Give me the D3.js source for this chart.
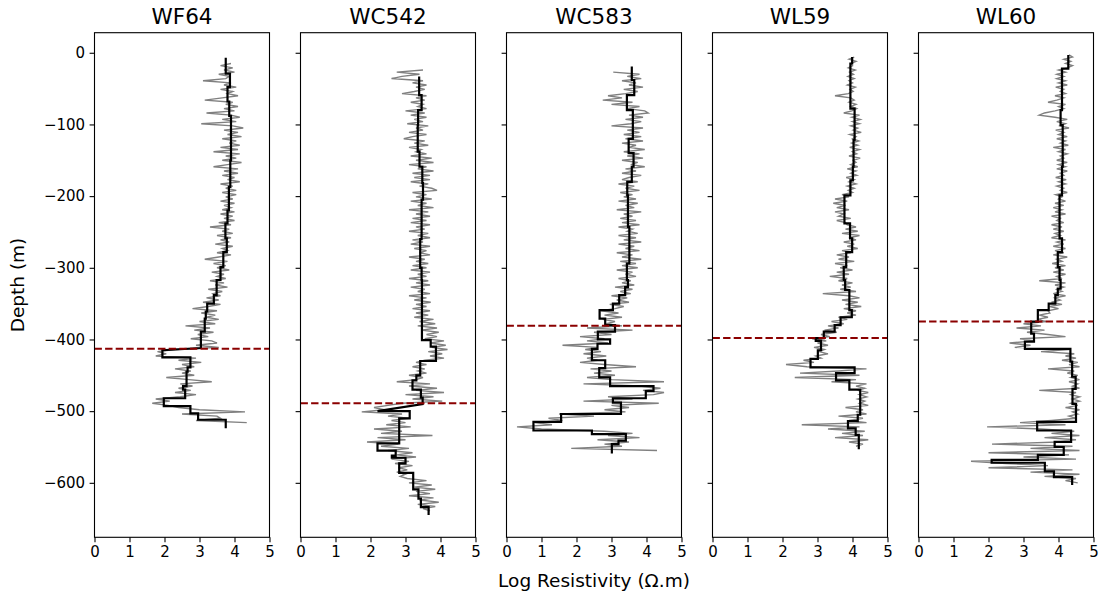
<!DOCTYPE html>
<html>
<head>
<meta charset="utf-8">
<script src="https://cdn.jsdelivr.net/npm/d3@7"></script>
<style>
  body { margin: 0; background: #fff; }
  svg { font-family: "DejaVu Sans", sans-serif; }
</style>
</head>
<body>
<svg id="chart" width="1104" height="596"></svg>
<script>
// wells and interpreted contact depth (m)
const wells = ["WF64", "WC542", "WC583", "WL59", "WL60"];
const contactDepth = [-413, -489, -381, -398, -375];
const depthTicks = [0, -100, -200, -300, -400, -500, -600];
const resTicks = [0, 1, 2, 3, 4, 5];

// raw resistivity logs, one sample every 3 m from the first depth
const logStep = 3;
const logTop = [-15, -24, -27, -6, -3];

const wf64Log = [
  3.9, 3.6, 3.95, 3.7, 4.0, 3.55, 3.85, 3.75, 3.1, 3.9,
  3.7, 4.05, 3.6, 3.95, 3.8, 4.1, 3.65, 3.15, 3.95, 3.75,
  4.1, 3.7, 4.0, 3.2, 3.9, 4.15, 3.65, 4.05, 3.05, 3.95,
  4.25, 3.7, 4.1, 3.8, 4.2, 3.65, 4.05, 3.85, 4.15, 3.6,
  4.1, 3.4, 4.15, 3.75, 4.05, 3.65, 4.2, 3.8, 3.4, 4.1,
  3.7, 4.1, 3.65, 4.0, 3.8, 4.15, 3.6, 3.95, 3.75, 4.05,
  3.65, 4.05, 3.75, 3.95, 3.6, 4.0, 3.7, 3.9, 3.65, 4.0,
  3.6, 3.95, 3.7, 4.0, 3.55, 3.9, 3.3, 3.85, 3.65, 3.95,
  3.5, 3.9, 3.6, 3.85, 3.45, 3.95, 3.65, 3.8, 3.5, 3.9,
  3.55, 3.15, 3.8, 3.4, 3.75, 3.5, 3.85, 3.35, 3.7, 3.5,
  3.75, 3.3, 3.7, 3.45, 3.8, 3.25, 3.65, 3.4, 3.6, 3.2,
  3.55, 3.1, 3.6, 3.25, 2.8, 3.5, 3.05, 3.45, 3.2, 3.55,
  3.0, 3.45, 2.6, 3.3, 2.85, 3.4, 2.95, 3.25, 2.75, 3.35,
  3.5, 2.9, 3.55, 2.3, 1.8, 2.05, 1.75, 2.9, 2.4, 3.05,
  2.5, 2.85, 2.3, 2.75, 2.5, 2.85, 2.05, 2.7, 3.35, 2.45,
  2.8, 2.4, 2.75, 2.3, 2.9, 2.45, 1.75, 2.15, 1.65, 2.1,
  2.4, 3.0, 4.3, 2.5, 3.5, 3.6, 2.9, 4.35
];

const wc542Log = [
  3.5, 2.75, 3.4, 2.9, 2.6, 3.5, 3.2, 3.6, 3.3, 3.55,
  3.25, 2.9, 3.6, 3.3, 3.55, 3.15, 3.5, 3.35, 3.6, 3.0,
  3.55, 3.15, 3.6, 3.25, 3.5, 3.05, 3.65, 3.3, 3.5, 3.1,
  3.6, 3.2, 2.95, 3.55, 3.25, 3.65, 3.1, 3.45, 3.3, 3.6,
  3.15, 3.75, 3.3, 3.8, 3.1, 3.6, 3.35, 3.8, 3.2, 3.7,
  3.25, 3.7, 3.15, 3.65, 3.4, 3.75, 3.9, 3.2, 3.6, 3.3,
  3.75, 3.15, 3.6, 3.35, 3.8, 3.1, 3.65, 3.3, 3.7, 3.2,
  3.6, 3.15, 3.7, 3.3, 3.55, 3.1, 3.65, 3.35, 3.7, 3.2,
  3.5, 3.15, 3.7, 3.25, 3.6, 3.4, 3.7, 3.1, 3.55, 3.3,
  3.65, 3.2, 3.6, 3.15, 3.7, 3.35, 3.6, 3.1, 3.65, 3.3,
  3.7, 3.15, 3.55, 3.35, 3.7, 3.1, 3.6, 3.25, 3.72, 3.3,
  3.6, 3.2, 3.7, 3.3, 3.65, 3.25, 3.8, 3.4, 3.85, 3.35,
  3.9, 3.45, 3.95, 3.6, 3.9, 3.55, 4.1, 3.7, 4.15, 3.75,
  4.2, 3.65, 4.05, 3.7, 4.1, 3.55, 3.3, 3.6, 3.2, 3.55,
  3.35, 3.6, 3.1, 3.5, 3.3, 2.75, 3.7, 3.1, 3.9, 3.3,
  4.1, 3.0, 3.8, 3.2, 4.05, 2.9, 2.5, 2.1, 2.4, 1.75,
  2.9, 2.5, 3.1, 2.6, 3.0, 2.45, 3.15, 2.1, 2.9, 2.3,
  3.77, 2.2, 3.0, 1.9, 2.8, 2.3, 3.1, 2.5, 3.2, 2.75,
  3.3, 2.6, 3.1, 2.7, 3.2, 2.8, 3.05, 2.75, 3.0, 2.85,
  3.05, 3.6, 3.1, 3.75, 3.25, 3.85, 3.3, 3.7, 3.1, 3.8,
  3.4, 3.95, 3.35, 3.85, 3.5, 3.7
];

const wc583Log = [
  3.05, 3.8, 3.45, 3.85, 3.3, 3.7, 3.5, 3.9, 3.35, 3.75,
  3.4, 2.9, 3.3, 2.75, 3.6, 3.0, 3.8, 3.45, 3.95, 4.05,
  3.5, 3.9, 3.4, 3.85, 3.55, 3.0, 3.9, 3.45, 3.8, 3.35,
  3.85, 3.4, 3.9, 3.3, 3.7, 3.5, 3.95, 3.35, 3.8, 3.45,
  3.9, 3.3, 3.75, 3.55, 3.95, 3.4, 3.7, 3.3, 3.85, 3.5,
  3.3, 3.75, 3.2, 3.65, 3.4, 3.8, 3.25, 3.6, 3.35, 3.7,
  3.2, 3.75, 3.4, 3.65, 3.15, 3.85, 3.35, 3.6, 3.25, 3.7,
  3.3, 3.8, 3.2, 3.6, 3.45, 3.75, 3.2, 3.7, 3.35, 3.85,
  3.2, 3.65, 3.4, 3.8, 3.15, 3.6, 3.3, 3.85, 3.25, 3.7,
  3.3, 3.75, 3.15, 3.6, 3.4, 3.7, 3.2, 3.55, 3.3, 3.65,
  3.1, 3.6, 3.25, 3.55, 3.0, 3.45, 3.15, 3.5, 2.95, 3.35,
  3.1, 2.7, 3.2, 2.8, 3.3, 2.75, 3.1, 2.85, 3.3, 2.3,
  3.6, 2.5, 3.0, 2.1, 2.8, 2.3, 2.9, 1.6, 2.6, 2.25,
  2.7, 2.2, 2.85, 2.3, 2.6, 2.1, 2.8, 3.7, 2.4, 3.0,
  2.5, 3.1, 2.3, 3.0, 4.5, 2.2, 3.8, 4.4, 3.9, 4.5,
  4.2, 2.9, 3.6, 2.2, 4.35, 3.0, 3.5, 2.8, 3.4, 1.5,
  2.5, 1.2, 1.6, 0.8, 1.3, 0.3, 1.0, 2.8, 3.6, 2.9,
  3.8, 2.6, 3.5, 2.8, 3.3, 1.85, 4.3
];

const wl59Log = [
  4.05, 3.9, 4.1, 3.95, 4.0, 3.88, 4.08, 3.92, 4.03, 3.87,
  4.05, 3.9, 4.0, 3.85, 4.08, 3.93, 4.02, 3.88, 3.5, 3.95,
  4.05, 3.9, 4.1, 3.95, 4.12, 3.98, 3.75, 4.2, 3.98, 4.22,
  4.0, 4.2, 3.95, 4.15, 4.02, 4.25, 3.92, 4.1, 4.0, 4.18,
  3.98, 4.15, 3.92, 4.2, 4.0, 4.12, 3.9, 4.22, 4.02, 4.1,
  3.95, 4.15, 3.85, 4.1, 3.95, 4.12, 3.82, 4.05, 3.9, 4.1,
  3.85, 4.05, 3.88, 4.0, 3.7, 3.9, 3.5, 3.85, 3.45, 3.8,
  3.55, 3.9, 3.5, 3.75, 3.6, 3.95, 3.55, 3.8, 3.85, 4.1,
  3.8, 4.15, 3.7, 4.2, 3.9, 4.1, 3.75, 4.05, 3.85, 4.15,
  3.7, 3.95, 3.55, 3.9, 3.6, 4.05, 3.5, 3.85, 3.65, 4.0,
  3.55, 3.9, 3.35, 3.85, 3.6, 4.0, 3.7, 3.95, 3.65, 4.1,
  3.15, 3.9, 4.2, 3.7, 4.15, 3.8, 4.25, 3.75, 4.1, 3.85,
  4.1, 3.6, 3.85, 3.4, 3.75, 3.3, 3.6, 3.2, 3.55, 3.1,
  3.35, 2.85, 3.25, 3.0, 3.3, 2.9, 3.2, 3.05, 3.3, 2.95,
  3.1, 2.6, 2.9, 2.1, 2.7, 4.4, 3.6, 2.5, 4.2, 2.35,
  4.1, 3.4, 4.4, 4.1, 4.35, 4.15, 4.45, 4.2, 4.4, 4.15,
  4.35, 4.2, 4.45, 3.8, 4.3, 4.1, 4.4, 3.6, 4.3, 3.9,
  4.4, 2.55, 4.2, 3.3, 4.35, 3.7, 4.3, 3.5, 4.45, 3.9,
  4.3, 4.1
];

const wl60Log = [
  4.3, 4.4, 4.15, 4.35, 4.2, 4.4, 4.25, 4.0, 4.2, 3.95,
  4.15, 3.95, 4.2, 4.0, 4.25, 3.92, 4.15, 4.05, 4.2, 3.9,
  4.15, 3.95, 3.7, 4.2, 4.0, 4.15, 3.9, 3.6, 3.45, 3.9,
  4.25, 3.95, 4.2, 4.05, 4.3, 3.92, 4.15, 4.0, 4.25, 3.95,
  4.2, 4.05, 4.28, 3.85, 4.2, 4.0, 4.25, 4.05, 4.15, 3.95,
  4.25, 4.0, 4.2, 3.95, 4.25, 4.05, 4.15, 3.92, 4.22, 4.0,
  4.2, 3.95, 4.15, 4.05, 4.25, 3.92, 4.1, 4.0, 4.2, 3.9,
  4.15, 3.85, 4.1, 3.9, 4.2, 3.8, 4.05, 3.95, 4.15, 3.8,
  4.1, 3.85, 4.15, 3.9, 4.05, 3.8, 4.2, 3.95, 4.15, 3.85,
  4.2, 3.9, 4.15, 3.85, 4.25, 3.95, 4.1, 3.82, 4.2, 3.9,
  4.15, 3.85, 4.2, 3.95, 4.1, 3.45, 4.2, 3.9, 4.15, 3.95,
  4.1, 3.85, 4.2, 3.9, 4.05, 3.8, 4.1, 3.75, 4.0, 3.7,
  3.75, 3.45, 3.7, 3.4, 3.65, 3.0, 3.5, 2.8, 3.6, 3.1,
  3.7, 4.2, 2.9, 3.3, 2.6, 3.2, 2.75, 4.3, 3.5, 4.45,
  4.2, 4.5, 4.1, 4.55, 4.3, 4.6, 3.7, 4.45, 4.25, 4.55,
  4.35, 4.6, 4.3, 4.55, 4.4, 4.6, 3.45, 4.5, 4.35, 4.6,
  4.4, 4.6, 4.35, 4.55, 4.2, 4.6, 4.4, 4.55, 4.3, 4.5,
  3.8, 2.9, 4.2, 1.96, 3.5, 4.45, 3.8, 4.6, 3.6, 4.5,
  4.0, 2.1, 4.4, 3.2, 4.6, 2.0, 4.3, 3.0, 4.5, 1.5,
  2.5, 3.7, 2.0, 4.4, 3.2, 4.6, 3.6, 4.5, 4.2, 4.55
];

// layered models: [top depth, base depth, log resistivity]
const wf64Model = [
  [-7, -29, 3.75], [-29, -48, 3.87], [-48, -68, 3.8], [-68, -88, 3.85],
  [-88, -150, 3.9], [-150, -187, 3.88], [-187, -220, 3.84], [-220, -238, 3.8],
  [-238, -259, 3.74], [-259, -278, 3.78], [-278, -299, 3.68], [-299, -317, 3.6],
  [-317, -338, 3.49], [-338, -350, 3.41], [-350, -361, 3.22], [-361, -371, 3.18],
  [-371, -389, 3.15], [-389, -412, 3.04], [-415, -425, 1.94], [-425, -439, 2.74],
  [-439, -445, 2.66], [-445, -465, 2.63], [-465, -470, 2.53], [-470, -482, 2.59],
  [-482, -493, 1.98], [-493, -503, 2.74], [-503, -512, 2.96], [-512, -524, 3.75]
];

const wc542Model = [
  [-33, -59, 3.39], [-59, -80, 3.46], [-80, -101, 3.36], [-101, -138, 3.35],
  [-138, -159, 3.4], [-159, -182, 3.48], [-182, -205, 3.5], [-205, -260, 3.46],
  [-260, -300, 3.42], [-300, -317, 3.46], [-317, -401, 3.47], [-401, -410, 3.72],
  [-410, -430, 3.87], [-430, -450, 3.42], [-450, -457, 3.31], [-457, -470, 3.2],
  [-470, -481, 3.44], [-481, -490, 3.49], [-500, -500, 2.2], [-500, -510, 3.12],
  [-510, -545, 2.82], [-545, -555, 2.2], [-555, -562, 2.72], [-562, -565, 2.61],
  [-565, -573, 3.0], [-573, -586, 2.82], [-586, -609, 3.22], [-609, -622, 3.37],
  [-622, -634, 3.44], [-634, -645, 3.66]
];

const wc583Model = [
  [-19, -38, 3.58], [-38, -59, 3.65], [-59, -80, 3.44], [-80, -120, 3.61],
  [-120, -140, 3.49], [-140, -159, 3.63], [-159, -180, 3.58], [-180, -199, 3.45],
  [-199, -243, 3.47], [-243, -294, 3.51], [-294, -317, 3.44], [-317, -327, 3.47],
  [-327, -338, 3.39], [-338, -350, 3.22], [-350, -359, 3.04], [-359, -371, 2.66],
  [-371, -380, 2.82], [-380, -389, 3.1], [-389, -400, 2.61], [-400, -406, 2.96],
  [-406, -413, 2.6], [-413, -429, 2.44], [-429, -440, 2.82], [-440, -453, 2.65],
  [-453, -465, 2.96], [-465, -472, 4.2], [-472, -482, 3.98], [-482, -488, 3.04],
  [-488, -504, 3.27], [-504, -515, 1.56], [-515, -527, 0.77], [-527, -532, 2.44],
  [-532, -541, 3.41], [-541, -546, 3.2], [-546, -559, 3.01]
];

const wl59Model = [
  [-6, -15, 3.99], [-15, -78, 3.94], [-78, -122, 4.06], [-122, -159, 4.03],
  [-159, -178, 4.01], [-178, -199, 3.94], [-199, -238, 3.77], [-238, -259, 3.93],
  [-259, -278, 3.99], [-278, -299, 3.82], [-299, -317, 3.75], [-317, -331, 3.79],
  [-331, -359, 3.91], [-359, -369, 3.98], [-369, -380, 3.66], [-380, -389, 3.49],
  [-389, -398, 3.18], [-398, -402, 2.95], [-402, -415, 3.1], [-415, -427, 3.01],
  [-427, -439, 2.8], [-439, -447, 4.06], [-447, -457, 3.53], [-457, -470, 3.91],
  [-470, -505, 4.22], [-505, -514, 4.15], [-514, -524, 3.87], [-524, -533, 4.09],
  [-533, -553, 4.18]
];

const wl60Model = [
  [-3, -22, 4.28], [-22, -80, 4.1], [-80, -101, 4.06], [-101, -159, 4.12],
  [-159, -199, 4.1], [-199, -259, 4.03], [-259, -278, 4.1], [-278, -299, 3.98],
  [-299, -317, 4.03], [-317, -329, 4.06], [-329, -338, 3.98], [-338, -350, 3.91],
  [-350, -359, 3.72], [-359, -375, 3.41], [-375, -392, 3.22], [-392, -403, 3.3],
  [-403, -413, 3.04], [-413, -431, 4.34], [-431, -452, 4.39], [-452, -469, 4.49],
  [-469, -490, 4.4], [-490, -515, 4.5], [-515, -527, 3.39], [-527, -543, 4.36],
  [-543, -550, 3.89], [-550, -561, 4.15], [-561, -568, 3.41], [-568, -572, 2.09],
  [-572, -584, 3.61], [-584, -592, 3.87], [-592, -603, 4.39]
];

const logs = [wf64Log, wc542Log, wc583Log, wl59Log, wl60Log];
const models = [wf64Model, wc542Model, wc583Model, wl59Model, wl60Model];

const svg = d3.select("#chart");
const left0 = 94.5, gap = 206, panelW = 175;
const top0 = 32.7, panelH = 504.6;

const y = d3.scaleLinear().domain([-676, 28]).range([top0 + panelH, top0]);
const x = d3.scaleLinear().domain([0, 5]).range([0, panelW]);
const fmt = d => d < 0 ? "\u2212" + Math.abs(d) : String(d);

const line = d3.line().x(d => x(d[0])).y(d => y(d[1]));

wells.forEach((name, i) => {
  const g = svg.append("g").attr("transform", `translate(${left0 + i * gap},0)`);

  g.append("clipPath").attr("id", "clip" + i)
    .append("rect").attr("x", 0).attr("y", top0).attr("width", panelW).attr("height", panelH);
  const plot = g.append("g").attr("clip-path", `url(#clip${i})`);

  const logPts = logs[i].map((v, k) => [v, logTop[i] - k * logStep]);
  plot.append("path")
    .attr("d", line(logPts))
    .attr("fill", "none")
    .attr("stroke", "#808080")
    .attr("stroke-width", 1.4);

  const modelPts = models[i].flatMap(l => [[l[2], l[0]], [l[2], l[1]]]);
  plot.append("path")
    .attr("d", line(modelPts))
    .attr("fill", "none")
    .attr("stroke", "#000")
    .attr("stroke-width", 2.2)
    .attr("stroke-linejoin", "miter");

  plot.append("line")
    .attr("x1", x(0)).attr("x2", x(5))
    .attr("y1", y(contactDepth[i])).attr("y2", y(contactDepth[i]))
    .attr("stroke", "#8b0000")
    .attr("stroke-width", 2)
    .attr("stroke-dasharray", "7.4,3.2");

  const xAxis = d3.axisBottom(x).tickValues(resTicks).tickSize(4.9).tickPadding(4)
    .tickFormat(d3.format("d"));
  g.append("g")
    .attr("transform", `translate(0,${top0 + panelH})`)
    .call(xAxis)
    .call(a => a.select(".domain").remove())
    .attr("font-family", null)
    .attr("font-size", 15);

  const yAxis = d3.axisLeft(y).tickValues(depthTicks).tickSize(4.9).tickPadding(4.5)
    .tickFormat(i === 0 ? fmt : "");
  g.append("g")
    .call(yAxis)
    .call(a => a.select(".domain").remove())
    .attr("font-family", null)
    .attr("font-size", 15);

  g.selectAll(".tick line").attr("stroke-width", 1.1);
  g.selectAll(".tick text").attr("fill", "#000");

  g.append("rect")
    .attr("x", 0).attr("y", top0)
    .attr("width", panelW).attr("height", panelH)
    .attr("fill", "none")
    .attr("stroke", "#000")
    .attr("stroke-width", 1.1);

  g.append("text")
    .attr("x", panelW / 2).attr("y", 24)
    .attr("text-anchor", "middle")
    .attr("font-size", 21.5)
    .text(name);
});

svg.append("text")
  .attr("x", left0 + (4 * gap + panelW) / 2).attr("y", 587)
  .attr("text-anchor", "middle")
  .attr("font-size", 18.5)
  .text("Log Resistivity (\u03A9.m)");

svg.append("text")
  .attr("transform", `translate(24,${top0 + panelH / 2}) rotate(-90)`)
  .attr("text-anchor", "middle")
  .attr("font-size", 18.5)
  .text("Depth (m)");
</script>
</body>
</html>
